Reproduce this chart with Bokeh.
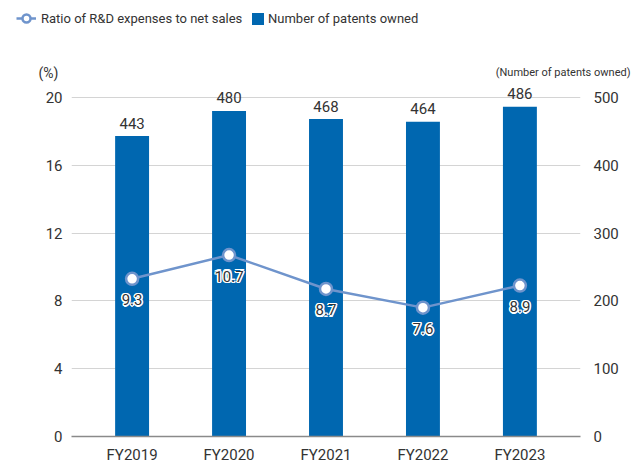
from bokeh.plotting import figure
from bokeh.layouts import column
from bokeh.models import (ColumnDataSource, FactorRange, Range1d, LinearAxis, FixedTicker,
                          Legend, LegendItem)
from bokeh.core.properties import value
from bokeh.embed import file_html
from bokeh.resources import INLINE

years = ["FY2019", "FY2020", "FY2021", "FY2022", "FY2023"]
patents = [443, 480, 468, 464, 486]
ratio = [9.3, 10.7, 8.7, 7.6, 8.9]
left_ticks = [0, 4, 8, 12, 16, 20]
right_ticks = [0, 100, 200, 300, 400, 500]

BAR = "#0067b0"
LINE = "#6f94cc"
TXT = "#333333"
FONT = "Roboto"

W = 631
HEAD_H = 82
MAIN_H = 466 - HEAD_H

# ---------------- header (legend + unit labels) ----------------
h = figure(width=W, height=HEAD_H, output_backend="svg", toolbar_location=None,
           x_range=Range1d(0, W), y_range=Range1d(HEAD_H, 0), title=None,
           x_axis_type=None, y_axis_type=None,
           min_border=0, min_border_left=0, min_border_right=0,
           min_border_top=0, min_border_bottom=0)
h.frame_align = False
h.outline_line_color = None
h.xgrid.grid_line_color = None
h.ygrid.grid_line_color = None

# legend sample renderers (placed off-screen, only their legend glyphs are seen)
dummy = ColumnDataSource(dict(x=[-1000, -999], y=[-1000, -1000], top=[-1000, -1000]))
d_line = h.line(x="x", y="y", source=dummy, line_color=LINE, line_width=2.5)
d_pts = h.scatter(x="x", y="y", source=dummy, size=10, fill_color="white",
                  line_color=LINE, line_width=2.5)
d_bar = h.vbar(x="x", top="top", width=1, source=dummy, fill_color=BAR, line_color=None)

h.text(x=[48], y=[72], text=["(%)"], text_align="center", text_baseline="middle",
       text_font=value(FONT), text_font_size="14px", text_color=TXT)
h.text(x=[630], y=[72], text=["(Number of patents owned)"], text_align="right",
       text_baseline="middle", text_font=value(FONT), text_font_size="11px",
       text_color=TXT)

common = dict(orientation="horizontal", margin=0, padding=0, border_line_color=None,
              background_fill_alpha=0, label_text_font=FONT, label_text_font_size="13px",
              label_text_color=TXT)
leg1 = Legend(items=[LegendItem(label="Ratio of R&D expenses to net sales",
                                renderers=[d_line, d_pts])],
              location=(16, 54), label_standoff=5, glyph_width=20, glyph_height=20,
              **common)
leg2 = Legend(items=[LegendItem(label="Number of patents owned", renderers=[d_bar])],
              location=(250, 56), label_standoff=3, glyph_width=15, glyph_height=15,
              **common)
h.add_layout(leg1)
h.add_layout(leg2)

# ---------------- main chart ----------------
y_top = (439 - HEAD_H) / ((439 - 97) / 20.0)   # keeps the 20 gridline in place
src = ColumnDataSource(dict(x=years, patents=patents, ratio=ratio,
                            plab=[str(v) for v in patents],
                            rlab=[f"{v:.1f}" for v in ratio]))

p = figure(width=W, height=MAIN_H, output_backend="svg", toolbar_location=None,
           x_range=FactorRange(factors=years, range_padding=0.05),
           y_range=Range1d(0, y_top), title=None,
           min_border_left=71, min_border_right=51, min_border_top=0, min_border_bottom=27)
p.frame_align = False
p.outline_line_color = None
p.extra_y_ranges = {"pat": Range1d(0, y_top * 25)}

p.vbar(x="x", top="patents", width=0.35, source=src, y_range_name="pat",
       color=BAR, line_color=None)
p.text(x="x", y="patents", text="plab", source=src, y_range_name="pat",
       text_align="center", text_baseline="middle", y_offset=-13,
       text_font=value(FONT), text_font_size="15px", text_color=TXT)

p.line(x="x", y="ratio", source=src, line_color=LINE, line_width=2.5)
p.scatter(x="x", y="ratio", source=src, size=12, fill_color="white",
          line_color=LINE, line_width=2.5)

for dx, dy in [(-1.5, 0), (1.5, 0), (0, -1.5), (0, 1.5),
               (-1.1, -1.1), (1.1, 1.1), (-1.1, 1.1), (1.1, -1.1)]:
    p.text(x="x", y="ratio", text="rlab", source=src, text_align="center",
           text_baseline="middle", x_offset=dx, y_offset=21 + dy,
           text_font=value(FONT), text_font_size="15px", text_color="white")
p.text(x="x", y="ratio", text="rlab", source=src, text_align="center",
       text_baseline="middle", y_offset=21,
       text_font=value(FONT), text_font_size="15px", text_color=TXT)

def style_axis(ax, standoff):
    ax.axis_line_color = None
    ax.major_tick_line_color = None
    ax.minor_tick_line_color = None
    ax.major_tick_out = 0
    ax.major_tick_in = 0
    ax.minor_tick_out = 0
    ax.minor_tick_in = 0
    ax.major_label_standoff = standoff
    ax.major_label_text_font = FONT
    ax.major_label_text_font_size = "15px"
    ax.major_label_text_color = TXT

p.yaxis.ticker = FixedTicker(ticks=left_ticks)
style_axis(p.yaxis[0], 9)

ra = LinearAxis(y_range_name="pat", ticker=FixedTicker(ticks=right_ticks))
style_axis(ra, 13)
p.add_layout(ra, "right")

style_axis(p.xaxis[0], 9)
p.xaxis.axis_line_color = "#8a8a8a"
p.xaxis.axis_line_width = 1.5

p.xgrid.grid_line_color = None
p.ygrid.grid_line_color = "#d4d4d4"
p.ygrid.grid_line_width = 1

layout = column(h, p, spacing=0)
open("out.html", "w").write(file_html(layout, INLINE))
